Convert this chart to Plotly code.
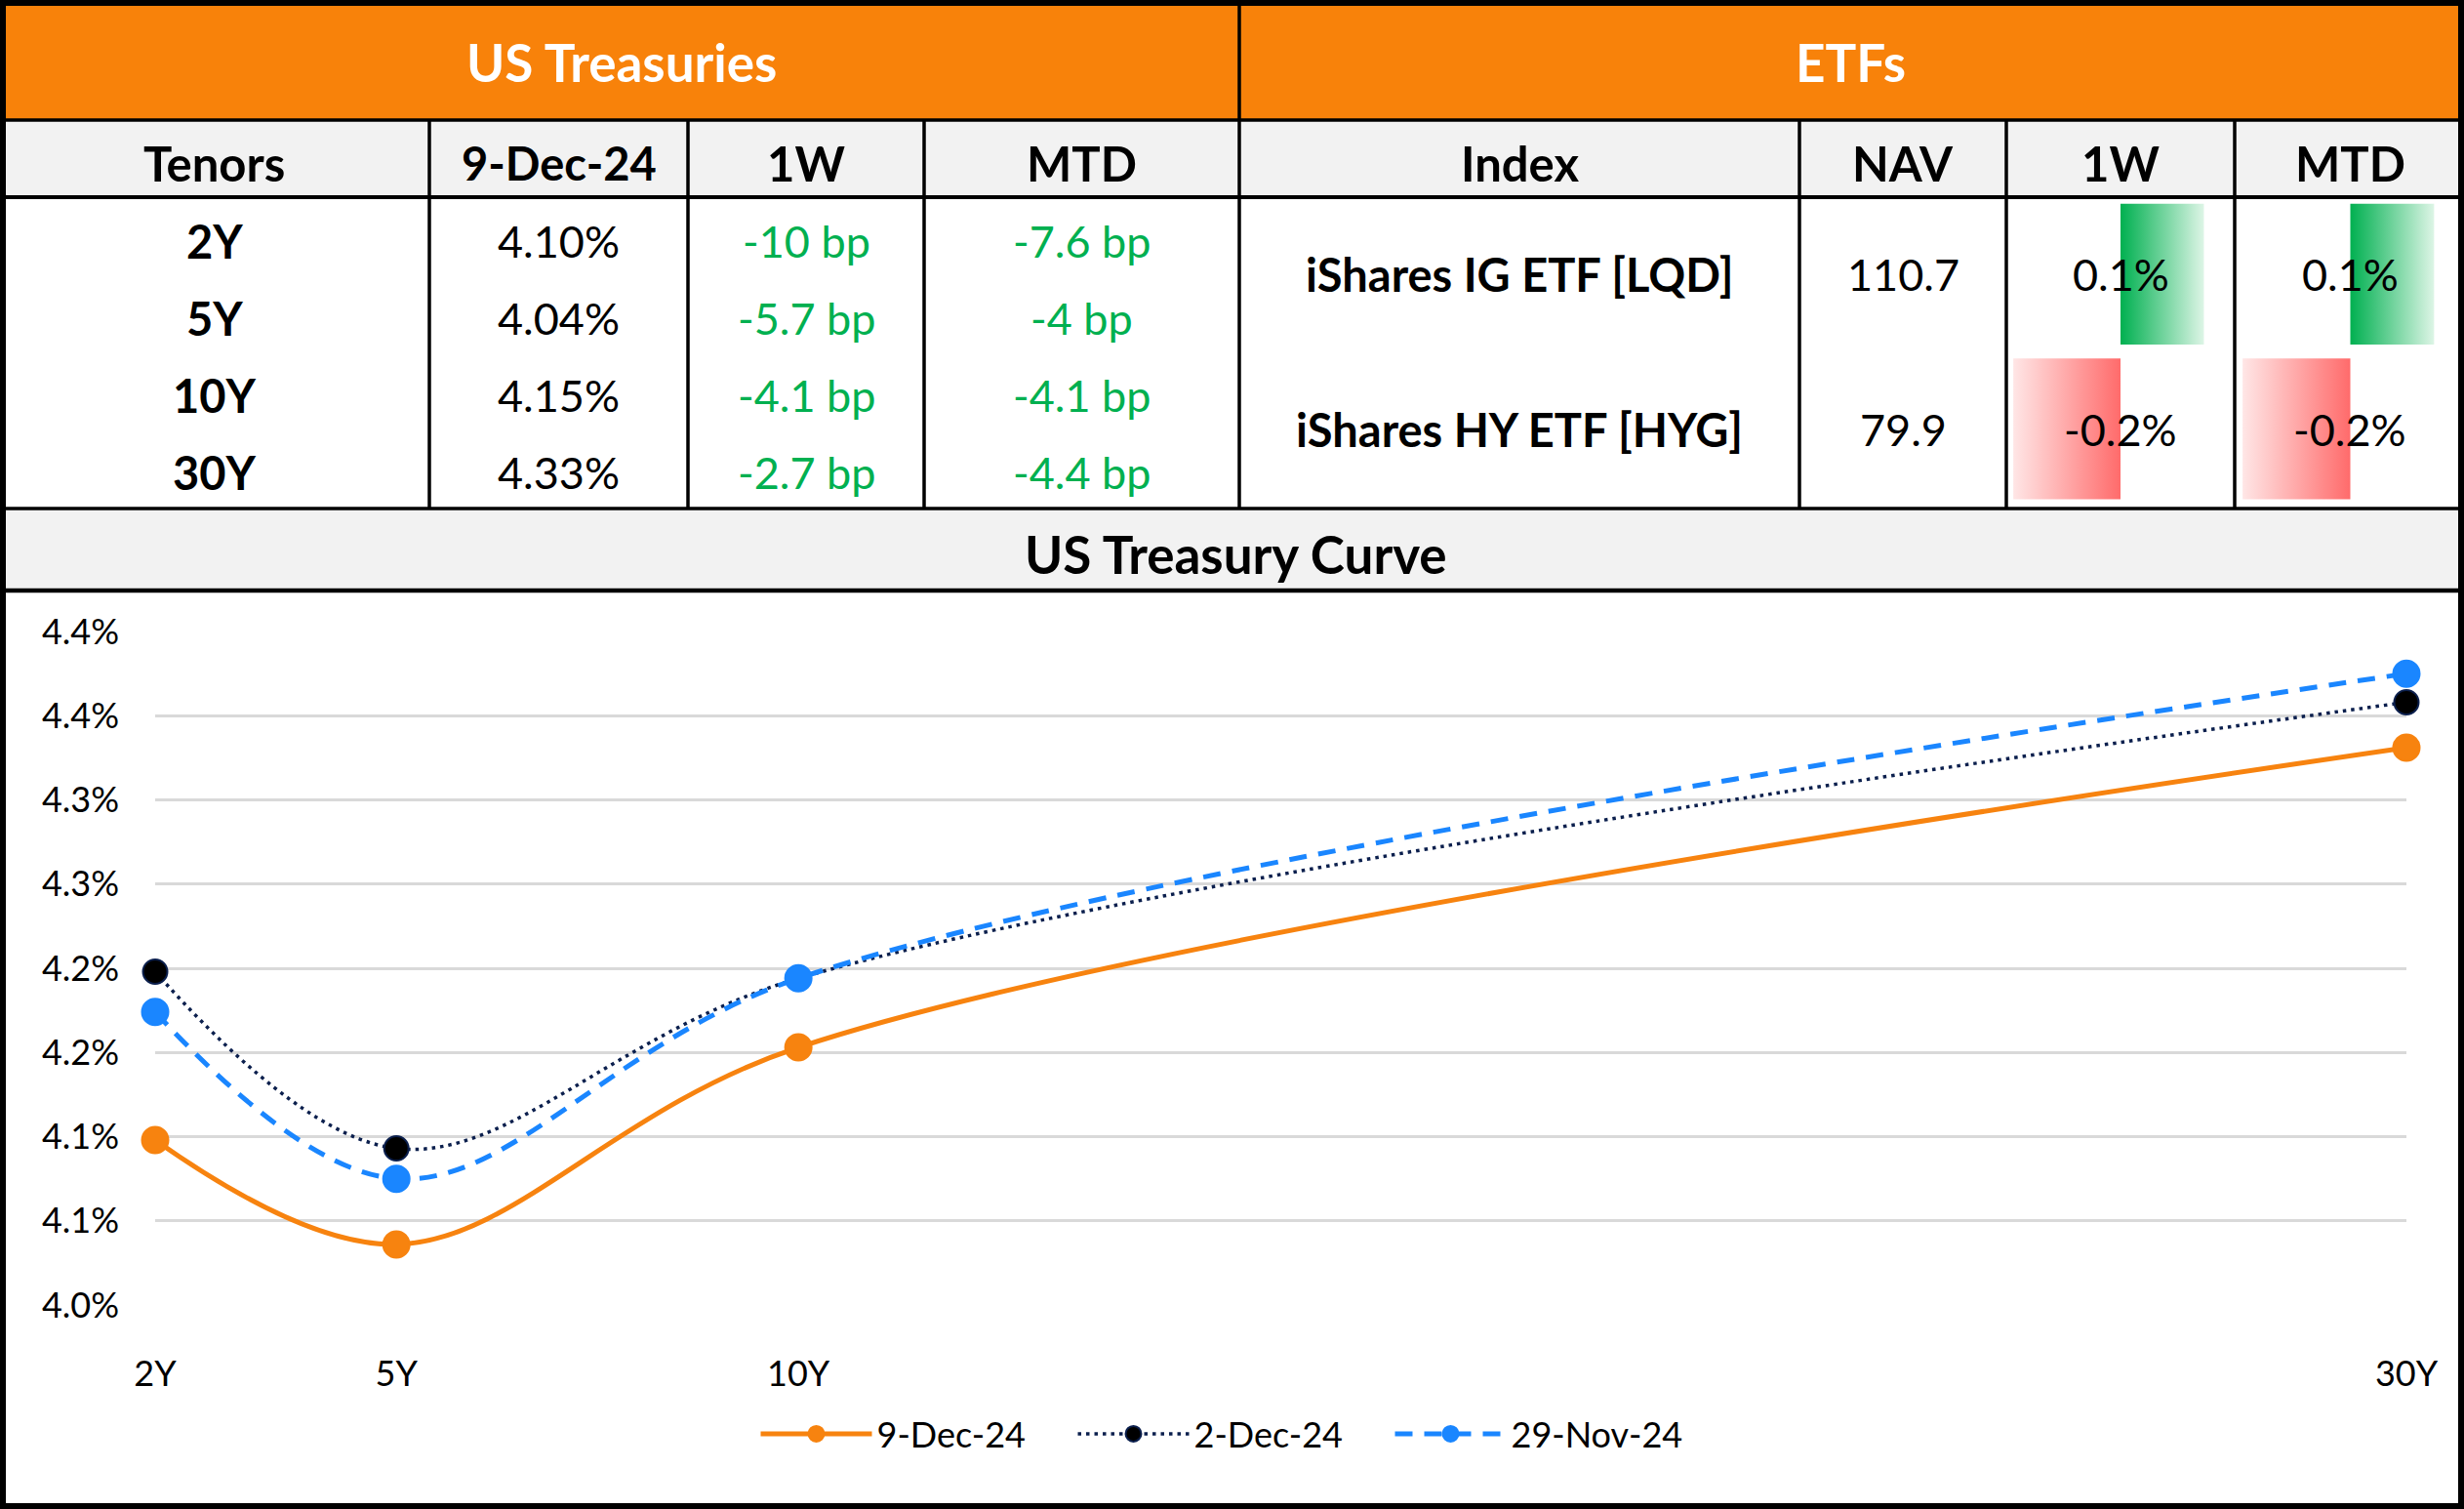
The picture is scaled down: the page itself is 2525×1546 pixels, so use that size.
import plotly.graph_objects as go

# ---------------- data ----------------
tenors = ["2Y", "5Y", "10Y", "30Y"]
tenor_years = [2, 5, 10, 30]
yield_9dec = [4.098, 4.036, 4.153, 4.331]
yield_2dec = [4.198, 4.093, 4.194, 4.358]
yield_29nov = [4.174, 4.075, 4.194, 4.375]
chg_1w_bp = [-10, -5.7, -4.1, -2.7]
chg_mtd_bp = [-7.6, -4, -4.1, -4.4]

etf_names = ["iShares IG ETF [LQD]", "iShares HY ETF [HYG]"]
etf_nav = [110.7, 79.9]
etf_1w = [0.0014, -0.0018]
etf_mtd = [0.0014, -0.0018]

series_names = ["9-Dec-24", "2-Dec-24", "29-Nov-24"]
tsy_headers = ["Tenors", "9-Dec-24", "1W", "MTD"]
etf_headers = ["Index", "NAV", "1W", "MTD"]

y_tickvals = [4.00, 4.05, 4.10, 4.15, 4.20, 4.25, 4.30, 4.35, 4.40]
y_ticktext = ["4.0%", "4.1%", "4.1%", "4.2%", "4.2%", "4.3%", "4.3%", "4.4%", "4.4%"]

# ---------------- geometry (pixels of a 2525x1546 canvas) ----------------
W, H = 2525, 1546
def px(x):
    return x / W
def py(y):
    return 1 - y / H

FONT = "Lato"
ORANGE = "#F8820A"
GRAY = "#F2F2F2"
GREEN_TXT = "#00B050"
col_edges = [0, 440, 705, 947, 1270, 1844, 2056, 2290, 2522]
y_orange = 123
y_head = 202
y_data = 521
y_title = 605
data_top = 204

fig = go.Figure()

# ---------------- curve chart ----------------
styles = [
    dict(color="#F7830F", width=5, dash="solid", mcolor="#F7830F", mline="#F7830F", msize=27),
    dict(color="#0B1F4D", width=3.5, dash="3.5px,5px", mcolor="#000000", mline="#0B1F4D", msize=25),
    dict(color="#1A86FF", width=5, dash="18px,12px", mcolor="#1A86FF", mline="#1A86FF", msize=27),
]
for name, ys, st in zip(series_names, [yield_9dec, yield_2dec, yield_29nov], styles):
    fig.add_trace(go.Scatter(
        x=tenor_years, y=ys, name=name, mode="lines+markers",
        line=dict(color=st["color"], width=st["width"], dash=st["dash"], shape="spline", smoothing=1),
        marker=dict(symbol="circle", size=st["msize"], color=st["mcolor"],
                    line=dict(color=st["mline"], width=2)),
        cliponaxis=False, xaxis="x", yaxis="y", hoverinfo="skip",
    ))

# ---------------- ETF data bars ----------------
row_lo, row_hi = 0.06, 0.97
def bar_trace(v, row, xa):
    y0, y1 = row + row_lo, row + row_hi
    if v >= 0:
        cs = [[0, "#00B050"], [1, "#DDF5E6"]]
        start, stop = 0, v
    else:
        cs = [[0, "#FFE6E6"], [1, "#FF6B6B"]]
        start, stop = v, 0
    return go.Scatter(
        x=[0, v, v, 0, 0], y=[y0, y0, y1, y1, y0], mode="lines", fill="toself",
        line=dict(width=0, color="rgba(0,0,0,0)"),
        fillgradient=dict(type="horizontal", colorscale=cs, start=start, stop=stop),
        xaxis=xa, yaxis="y2", showlegend=False, hoverinfo="skip",
    )

n_etf = len(etf_names)
for i in range(n_etf):
    row = n_etf - 1 - i
    fig.add_trace(bar_trace(etf_1w[i], row, "x2"))
    fig.add_trace(bar_trace(etf_mtd[i], row, "x3"))

# ---------------- shapes ----------------
shapes = []
def rect(x0, y0, x1, y1, color):
    shapes.append(dict(type="rect", xref="paper", yref="paper", x0=px(x0), x1=px(x1),
                       y0=py(y1), y1=py(y0), fillcolor=color, line=dict(width=0), layer="below"))
def hline(y, x0=0, x1=W, w=3.5):
    shapes.append(dict(type="line", xref="paper", yref="paper", x0=px(x0), x1=px(x1),
                       y0=py(y), y1=py(y), line=dict(color="black", width=w)))
def vline(x, y0, y1, w=3.5):
    shapes.append(dict(type="line", xref="paper", yref="paper", x0=px(x), x1=px(x),
                       y0=py(y0), y1=py(y1), line=dict(color="black", width=w)))

rect(0, 0, W, y_orange, ORANGE)
rect(0, y_orange, W, y_head, GRAY)
rect(0, y_data, W, y_title, GRAY)

hline(y_orange)
hline(y_head, w=4)
hline(y_data)
hline(y_title, w=4.5)
vline(1270, 0, y_data)
for x in [440, 705, 947, 1844, 2056, 2290]:
    vline(x, y_orange, y_data)
# outer border
shapes.append(dict(type="rect", xref="paper", yref="paper", x0=px(3), x1=px(W - 3),
                   y0=py(H - 3), y1=py(3), line=dict(color="black", width=6), fillcolor="rgba(0,0,0,0)"))

# ---------------- annotations ----------------
ann = []
def text(x, y, s, size=45, bold=False, color="black"):
    ann.append(dict(xref="paper", yref="paper", x=px(x), y=py(y), text=s, showarrow=False,
                    xanchor="center", yanchor="middle",
                    font=dict(family=FONT, size=size, color=color, weight="bold" if bold else "normal")))

text(637, 64, "US Treasuries", 53, True, "white")
text(1896, 64, "ETFs", 53, True, "white")

centers = [(col_edges[k] + col_edges[k + 1]) / 2 for k in range(len(col_edges) - 1)]
centers[7] = 2408
for k, h in enumerate(tsy_headers + etf_headers):
    text(centers[k], 167, h, 49 if k != 1 else 47, True)

n_t = len(tenors)
row_h = (y_data - data_top) / n_t
for i in range(n_t):
    yc = data_top + row_h * (i + 0.5) + 3
    text(centers[0], yc, tenors[i], 47, True)
    text(centers[1], yc, "{:.2f}%".format(yield_9dec[i]), 45)
    text(centers[2], yc, "{:g} bp".format(chg_1w_bp[i]), 45, color=GREEN_TXT)
    text(centers[3], yc, "{:g} bp".format(chg_mtd_bp[i]), 45, color=GREEN_TXT)

erow_h = (y_data - data_top) / n_etf
for i in range(n_etf):
    yc = data_top + erow_h * (i + 0.5) - 2
    text(centers[4], yc, etf_names[i], 47, True)
    text(centers[5], yc, "{:.1f}".format(etf_nav[i]), 45)
    text(centers[6], yc, "{:.1%}".format(etf_1w[i]), 45)
    text(centers[7], yc, "{:.1%}".format(etf_mtd[i]), 45)

text(1266, 567, "US Treasury Curve", 53, True)

# ---------------- layout ----------------
bar_range = [-0.0019, 0.0019]
hidden = dict(visible=False, fixedrange=True, automargin=False)
fig.update_layout(
    width=W, height=H, margin=dict(l=0, r=0, t=0, b=0, pad=0, autoexpand=False), autosize=False,
    paper_bgcolor="white", plot_bgcolor="rgba(0,0,0,0)",
    font=dict(family=FONT, color="black"),
    shapes=shapes, annotations=ann,
    xaxis=dict(domain=[px(159), px(2466)], range=[2, 30], tickvals=tenor_years, ticktext=tenors,
               showgrid=False, zeroline=False, showline=False, ticks="", automargin=False,
               tickfont=dict(family=FONT, size=36, color="black"), ticklabelstandoff=46,
               anchor="y", fixedrange=True),
    yaxis=dict(domain=[py(1337), py(647)], range=[4.0, 4.4], tickvals=y_tickvals, ticktext=y_ticktext,
               showgrid=True, gridcolor="#D9D9D9", gridwidth=2.5, zeroline=False, showline=False,
               ticks="", tickfont=dict(family=FONT, size=36, color="black"), ticklabelstandoff=36,
               anchor="x", fixedrange=True, automargin=False),
    xaxis2=dict(domain=[px(2057), px(2289)], range=bar_range, anchor="y2", **hidden),
    xaxis3=dict(domain=[px(2292), px(2525)], range=bar_range, anchor="y2", **hidden),
    yaxis2=dict(domain=[py(y_data), py(data_top)], range=[0, 2], anchor="x2", **hidden),
    showlegend=True,
    legend=dict(orientation="h", x=px(1262), xanchor="center", y=py(1469), yanchor="middle",
                font=dict(family=FONT, size=36, color="black"), itemwidth=114,
                entrywidth=196, entrywidthmode="pixels", bgcolor="rgba(0,0,0,0)"),
)

fig.write_html(
    "out.html",
    config={"displayModeBar": False},
    post_script="document.documentElement.style.margin='0';document.body.style.margin='0';"
                "document.body.style.padding='0';document.documentElement.style.overflow='hidden';"
                "document.body.style.overflow='hidden';",
)
